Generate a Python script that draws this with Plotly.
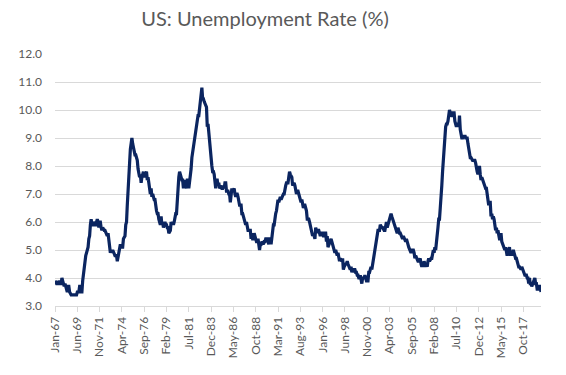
import pandas as pd
import plotly.graph_objects as go

start_month = "1967-01"
unemployment = [
    # 1967
    3.9, 3.8, 3.8, 3.8, 3.8, 3.9, 3.8, 3.8, 3.8, 4.0, 3.9, 3.8,
    # 1968
    3.7, 3.8, 3.7, 3.5, 3.5, 3.7, 3.7, 3.5, 3.4, 3.4, 3.4, 3.4,
    # 1969
    3.4, 3.4, 3.4, 3.4, 3.4, 3.5, 3.5, 3.5, 3.7, 3.7, 3.5, 3.5,
    # 1970
    3.9, 4.2, 4.4, 4.6, 4.8, 4.9, 5.0, 5.1, 5.4, 5.5, 5.9, 6.1,
    # 1971
    5.9, 5.9, 6.0, 5.9, 5.9, 5.9, 6.0, 6.1, 6.0, 5.8, 6.0, 6.0,
    # 1972
    5.8, 5.7, 5.8, 5.7, 5.7, 5.7, 5.6, 5.6, 5.5, 5.6, 5.3, 5.2,
    # 1973
    4.9, 5.0, 4.9, 5.0, 4.9, 4.9, 4.8, 4.8, 4.8, 4.6, 4.8, 4.9,
    # 1974
    5.1, 5.2, 5.1, 5.1, 5.1, 5.4, 5.5, 5.5, 5.9, 6.0, 6.6, 7.2,
    # 1975
    8.1, 8.1, 8.6, 8.8, 9.0, 8.8, 8.6, 8.4, 8.4, 8.4, 8.3, 8.2,
    # 1976
    7.9, 7.7, 7.6, 7.7, 7.4, 7.6, 7.8, 7.8, 7.6, 7.7, 7.8, 7.8,
    # 1977
    7.5, 7.6, 7.4, 7.2, 7.0, 7.2, 6.9, 7.0, 6.8, 6.8, 6.8, 6.4,
    # 1978
    6.4, 6.3, 6.3, 6.1, 6.0, 5.9, 6.2, 5.9, 6.0, 5.8, 5.9, 6.0,
    # 1979
    5.9, 5.9, 5.8, 5.8, 5.6, 5.7, 5.7, 6.0, 5.9, 6.0, 5.9, 6.0,
    # 1980
    6.3, 6.3, 6.3, 6.9, 7.5, 7.6, 7.8, 7.7, 7.5, 7.5, 7.5, 7.2,
    # 1981
    7.5, 7.4, 7.4, 7.2, 7.5, 7.5, 7.2, 7.4, 7.6, 7.9, 8.3, 8.5,
    # 1982
    8.6, 8.9, 9.0, 9.3, 9.4, 9.6, 9.8, 9.8, 10.1, 10.4, 10.8, 10.8,
    # 1983
    10.4, 10.4, 10.3, 10.2, 10.1, 10.1, 9.4, 9.5, 9.2, 8.8, 8.5, 8.3,
    # 1984
    8.0, 7.8, 7.8, 7.7, 7.4, 7.2, 7.5, 7.5, 7.3, 7.4, 7.2, 7.3,
    # 1985
    7.3, 7.2, 7.2, 7.3, 7.2, 7.4, 7.4, 7.1, 7.1, 7.1, 7.0, 7.0,
    # 1986
    6.7, 7.2, 7.2, 7.1, 7.2, 7.2, 7.0, 6.9, 7.0, 7.0, 6.9, 6.6,
    # 1987
    6.6, 6.6, 6.6, 6.3, 6.3, 6.2, 6.1, 6.0, 5.9, 6.0, 5.8, 5.7,
    # 1988
    5.7, 5.7, 5.7, 5.4, 5.6, 5.4, 5.4, 5.6, 5.4, 5.4, 5.3, 5.3,
    # 1989
    5.4, 5.2, 5.0, 5.2, 5.2, 5.3, 5.2, 5.2, 5.3, 5.3, 5.4, 5.4,
    # 1990
    5.4, 5.3, 5.2, 5.4, 5.4, 5.2, 5.5, 5.7, 5.9, 5.9, 6.2, 6.3,
    # 1991
    6.4, 6.6, 6.8, 6.7, 6.9, 6.9, 6.8, 6.9, 6.9, 7.0, 7.0, 7.3,
    # 1992
    7.3, 7.4, 7.4, 7.4, 7.6, 7.8, 7.7, 7.6, 7.6, 7.3, 7.4, 7.4,
    # 1993
    7.3, 7.1, 7.0, 7.1, 7.1, 7.0, 6.9, 6.8, 6.7, 6.8, 6.6, 6.5,
    # 1994
    6.6, 6.6, 6.5, 6.4, 6.1, 6.1, 6.1, 6.0, 5.9, 5.8, 5.6, 5.5,
    # 1995
    5.6, 5.4, 5.4, 5.8, 5.6, 5.6, 5.7, 5.7, 5.6, 5.5, 5.6, 5.6,
    # 1996
    5.6, 5.5, 5.5, 5.6, 5.6, 5.3, 5.5, 5.1, 5.2, 5.2, 5.4, 5.4,
    # 1997
    5.3, 5.2, 5.2, 5.1, 4.9, 5.0, 4.9, 4.8, 4.9, 4.7, 4.6, 4.7,
    # 1998
    4.6, 4.6, 4.7, 4.3, 4.4, 4.5, 4.5, 4.5, 4.6, 4.5, 4.4, 4.4,
    # 1999
    4.3, 4.4, 4.2, 4.3, 4.2, 4.3, 4.3, 4.2, 4.2, 4.1, 4.1, 4.0,
    # 2000
    4.0, 4.1, 4.0, 3.8, 4.0, 4.0, 4.0, 4.1, 3.9, 3.9, 3.9, 3.9,
    # 2001
    4.2, 4.2, 4.3, 4.4, 4.3, 4.5, 4.6, 4.9, 5.0, 5.3, 5.5, 5.7,
    # 2002
    5.7, 5.7, 5.7, 5.9, 5.8, 5.8, 5.8, 5.7, 5.7, 5.7, 5.9, 6.0,
    # 2003
    5.8, 5.9, 5.9, 6.0, 6.1, 6.3, 6.2, 6.1, 6.1, 6.0, 5.8, 5.7,
    # 2004
    5.7, 5.6, 5.8, 5.6, 5.6, 5.6, 5.5, 5.4, 5.4, 5.5, 5.4, 5.4,
    # 2005
    5.3, 5.4, 5.2, 5.2, 5.1, 5.0, 5.0, 4.9, 5.0, 5.0, 5.0, 4.9,
    # 2006
    4.7, 4.8, 4.7, 4.7, 4.6, 4.6, 4.7, 4.7, 4.5, 4.4, 4.5, 4.4,
    # 2007
    4.6, 4.5, 4.4, 4.5, 4.4, 4.6, 4.7, 4.6, 4.7, 4.7, 4.7, 5.0,
    # 2008
    5.0, 4.9, 5.1, 5.0, 5.4, 5.6, 5.8, 6.1, 6.1, 6.5, 6.8, 7.3,
    # 2009
    7.8, 8.3, 8.7, 9.0, 9.4, 9.5, 9.5, 9.6, 9.8, 10.0, 9.9, 9.9,
    # 2010
    9.8, 9.8, 9.9, 9.9, 9.6, 9.4, 9.4, 9.5, 9.5, 9.4, 9.8, 9.3,
    # 2011
    9.1, 9.0, 9.0, 9.1, 9.0, 9.1, 9.0, 9.0, 9.0, 8.8, 8.6, 8.5,
    # 2012
    8.3, 8.3, 8.2, 8.2, 8.2, 8.2, 8.2, 8.1, 7.8, 7.8, 7.7, 7.9,
    # 2013
    8.0, 7.7, 7.5, 7.6, 7.5, 7.5, 7.3, 7.2, 7.2, 7.2, 6.9, 6.7,
    # 2014
    6.6, 6.7, 6.7, 6.2, 6.3, 6.1, 6.2, 6.1, 5.9, 5.7, 5.8, 5.6,
    # 2015
    5.7, 5.5, 5.4, 5.4, 5.6, 5.3, 5.2, 5.1, 5.0, 5.0, 5.1, 5.0,
    # 2016
    4.8, 4.9, 5.0, 5.1, 4.8, 4.9, 4.8, 4.9, 5.0, 4.9, 4.7, 4.7,
    # 2017
    4.7, 4.6, 4.4, 4.4, 4.4, 4.3, 4.3, 4.4, 4.3, 4.2, 4.2, 4.1,
    # 2018
    4.1, 4.1, 4.0, 4.0, 3.8, 4.0, 3.8, 3.8, 3.7, 3.8, 3.8, 3.9,
    # 2019
    4.0, 3.8, 3.8, 3.6, 3.6, 3.7, 3.7, 3.7, 3.5,
]

months = pd.date_range(start_month, periods=len(unemployment), freq="MS")
month_labels = [d.strftime("%b-%y") for d in months]
tick_labels = month_labels[::29]
y_ticks = [3, 4, 5, 6, 7, 8, 9, 10, 11, 12]

FONT = "Lato, 'Open Sans', sans-serif"
GREY = "#595959"

fig = go.Figure()
fig.add_trace(go.Scatter(
    x=month_labels, y=unemployment, mode="lines",
    line=dict(color="#0b2560", width=3.2),
    hoverinfo="x+y", showlegend=False,
))

fig.update_layout(
    width=566, height=375,
    margin=dict(l=55, r=25, t=54, b=69),
    paper_bgcolor="white", plot_bgcolor="white",
    title=dict(text="US: Unemployment Rate (%)", x=265 / 566, xanchor="center",
               xref="container", y=0.95, yanchor="middle",
               font=dict(family=FONT, size=20, color=GREY)),
    font=dict(family=FONT, color=GREY),
)
fig.update_xaxes(
    type="category", range=[0, len(unemployment) - 1],
    tickmode="array", tickvals=tick_labels, ticktext=tick_labels,
    tickangle=-90, tickfont=dict(size=12, color=GREY),
    ticks="outside", ticklen=5, tickcolor="#d9d9d9",
    showline=True, linecolor="#d9d9d9", linewidth=1,
    showgrid=False, zeroline=False,
)
fig.update_yaxes(
    range=[3, 12], tickmode="array", tickvals=y_ticks,
    tickformat=".1f", tickfont=dict(size=12, color=GREY),
    showgrid=True, gridcolor="#d9d9d9", gridwidth=1,
    zeroline=False, showline=False, ticks="", ticklabelstandoff=12,
)

fig.write_html(
    "out.html",
    config={"displayModeBar": False},
    post_script="document.body.style.margin='0';document.body.style.padding='0';",
)
